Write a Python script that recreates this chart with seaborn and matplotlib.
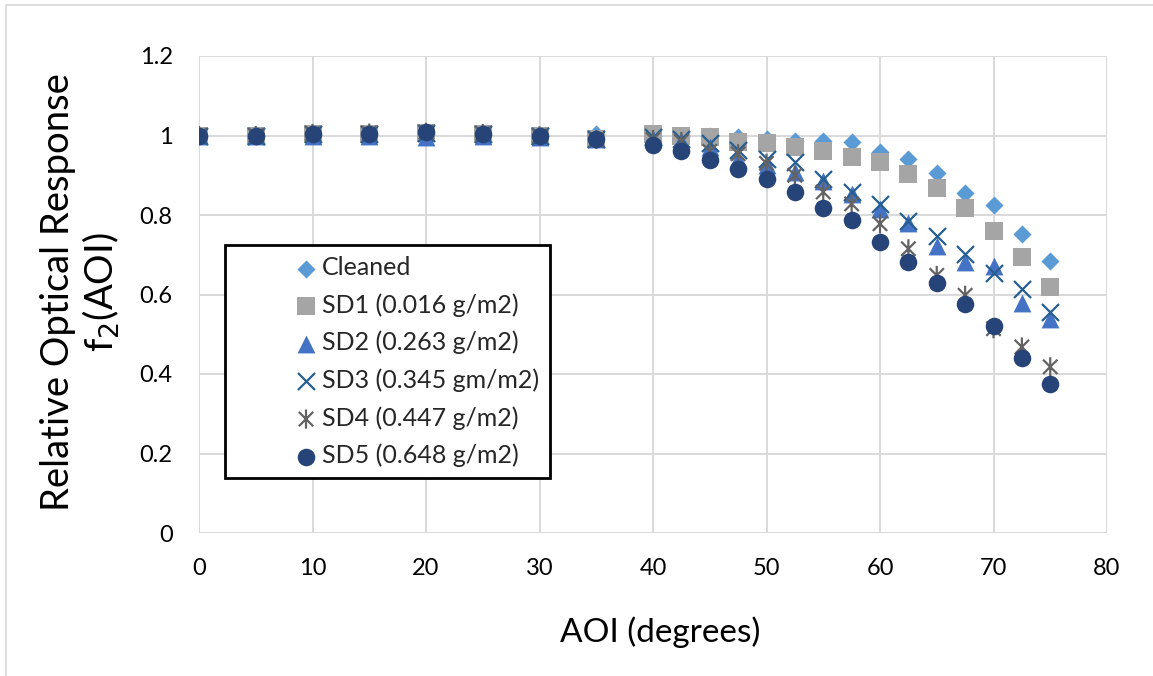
import numpy as np
import pandas as pd
import matplotlib
matplotlib.use("Agg")
import matplotlib.pyplot as plt
from matplotlib.path import Path
from matplotlib.patches import Rectangle
import seaborn as sns

# ---------------- data ----------------
aoi = [0, 5, 10, 15, 20, 25, 30, 35, 40, 42.5, 45, 47.5, 50, 52.5, 55, 57.5,
       60, 62.5, 65, 67.5, 70, 72.5, 75]

cleaned = [1.000, 1.000, 1.002, 1.003, 1.005, 1.002, 1.000, 1.005, 1.000, 1.000, 0.998, 0.995,
           0.990, 0.985, 0.985, 0.984, 0.958, 0.940, 0.905, 0.855, 0.824, 0.753, 0.684]
sd1 = [1.000, 1.000, 1.003, 1.004, 1.006, 1.003, 0.998, 0.990, 1.004, 1.000, 0.996, 0.983,
       0.980, 0.971, 0.961, 0.945, 0.933, 0.904, 0.868, 0.817, 0.759, 0.694, 0.619]
sd2 = [0.998, 0.998, 0.999, 1.000, 0.997, 0.999, 0.997, 0.990, 0.990, 0.985, 0.970, 0.940,
       0.925, 0.908, 0.885, 0.853, 0.814, 0.780, 0.723, 0.682, 0.671, 0.578, 0.539]
sd3 = [1.000, 1.000, 1.004, 1.005, 1.007, 1.004, 0.999, 0.990, 0.995, 0.990, 0.980, 0.964,
       0.940, 0.933, 0.891, 0.859, 0.828, 0.786, 0.746, 0.702, 0.654, 0.615, 0.556]
sd4 = [1.000, 1.000, 1.005, 1.006, 1.008, 1.005, 0.999, 0.990, 0.990, 0.985, 0.960, 0.954,
       0.930, 0.900, 0.858, 0.828, 0.778, 0.715, 0.648, 0.598, 0.514, 0.468, 0.418]
sd5 = [1.000, 1.000, 1.003, 1.005, 1.008, 1.004, 0.998, 0.990, 0.975, 0.962, 0.939, 0.916,
       0.891, 0.859, 0.817, 0.788, 0.733, 0.682, 0.630, 0.577, 0.521, 0.439, 0.374]

series_names = ["Cleaned", "SD1 (0.016 g/m2)", "SD2 (0.263 g/m2)",
                "SD3 (0.345 gm/m2)", "SD4 (0.447 g/m2)", "SD5 (0.648 g/m2)"]
series_values = [cleaned, sd1, sd2, sd3, sd4, sd5]

x_ticks = [0, 10, 20, 30, 40, 50, 60, 70, 80]
y_ticks = [0, 0.2, 0.4, 0.6, 0.8, 1.0, 1.2]
y_tick_labels = ["0", "0.2", "0.4", "0.6", "0.8", "1", "1.2"]

# ---------------- style ----------------
sns.set_theme(style="white")
plt.rcParams["font.family"] = ["Lato", "DejaVu Sans"]

W, H = 1153, 676
fig = plt.figure(figsize=(W / 100, H / 100), dpi=100)
ax = fig.add_axes([199 / W, 1 - 533 / H, (1107 - 199) / W, (533 - 56) / H])

asterisk = Path([(0, -1), (0, 1), (-0.75, -0.75), (0.75, 0.75), (-0.75, 0.75), (0.75, -0.75)],
                [Path.MOVETO, Path.LINETO, Path.MOVETO, Path.LINETO, Path.MOVETO, Path.LINETO])

styles = [
    dict(marker="D", color="#5B9BD5", s=85, kind="filled"),
    dict(marker="s", color="#A5A5A5", s=150, kind="filled"),
    dict(marker="^", color="#4472C4", s=165, kind="filled"),
    dict(marker="x", color="#255E91", s=150, kind="line"),
    dict(marker=asterisk, color="#636363", s=190, kind="path"),
    dict(marker="o", color="#264478", s=160, kind="filled"),
]

for i, (name, vals, st) in enumerate(zip(series_names, series_values, styles)):
    df = pd.DataFrame({"AOI": aoi, "val": vals})
    if st["kind"] == "filled":
        sns.scatterplot(data=df, x="AOI", y="val", marker=st["marker"], s=st["s"],
                        color=st["color"], edgecolor=st["color"], linewidth=0,
                        ax=ax, label=name, zorder=3 + i)
    elif st["kind"] == "line":
        sns.scatterplot(data=df, x="AOI", y="val", marker=st["marker"], s=st["s"],
                        color=st["color"], linewidth=1.6, ax=ax, label=name, zorder=3 + i)
    else:
        sns.scatterplot(data=df, x="AOI", y="val", marker=st["marker"], s=st["s"],
                        facecolor="none", edgecolor=st["color"],
                        linewidth=1.6, ax=ax, label=name, zorder=3 + i)

ax.set_xlim(0, 80)
ax.set_ylim(0, 1.2)
ax.set_xticks(x_ticks)
ax.set_yticks(y_ticks)
ax.set_yticklabels(y_tick_labels)
ax.grid(True, color="#D9D9D9", linewidth=1.4)
ax.set_axisbelow(True)
for sp in ax.spines.values():
    sp.set_visible(False)
ax.tick_params(axis="x", length=0, pad=18, labelsize=17, labelcolor="#000000")
ax.tick_params(axis="y", length=0, pad=19, labelsize=17, labelcolor="#000000")

ax.set_xlabel("AOI (degrees)", fontsize=24, color="#000000")
ax.xaxis.set_label_coords((660 - 199) / 908, (533 - 632) / 477)
ax.xaxis.label.set_va("center")
ax.set_ylabel("Relative Optical Response\nf$_2$(AOI)", fontsize=27.5, color="#000000",
              linespacing=1.15)
ax.yaxis.set_label_coords((81 - 199) / 908, (533 - 292) / 477)
ax.yaxis.label.set_va("center")

fs = 18
leg = ax.legend(loc="upper left",
                bbox_to_anchor=((225 - 199) / 908, (533 - 245) / 477),
                frameon=True, fancybox=False, fontsize=fs,
                handlelength=5.58, handletextpad=-2.15, labelspacing=0.56,
                borderpad=0.45, borderaxespad=0, markerscale=1.0)
leg.get_frame().set_edgecolor("#000000")
leg.get_frame().set_linewidth(2.0)
leg.get_frame().set_facecolor("white")
leg.get_frame().set_alpha(1.0)
leg.set_zorder(20)

# outer chart border
fig.add_artist(Rectangle((6 / W, -0.05), 1.1, 1 - 5 / H + 0.05, transform=fig.transFigure,
                         fill=False, edgecolor="#D9D9D9", linewidth=1.2))

fig.savefig("out.png", dpi=100, facecolor="white")
